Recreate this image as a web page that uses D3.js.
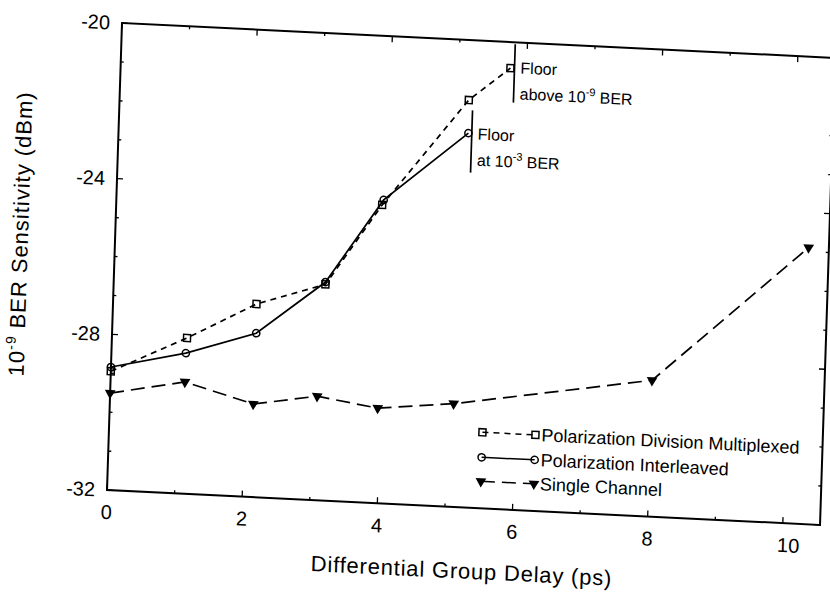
<!DOCTYPE html>
<html>
<head>
<meta charset="utf-8">
<script src="https://cdn.jsdelivr.net/npm/d3@7"></script>
<style>
  body { margin: 0; background: #fff; }
  text { font-family: "Liberation Sans", Arial, sans-serif; fill: #000; }
</style>
</head>
<body>
<div id="chart"></div>
<script>
// values
const xPDM = [0, 1.11, 2.12, 3.13, 3.93, 5.16, 5.76];
const yPDM = [-28.95, -28.0, -27.04, -26.45, -24.34, -21.54, -20.67];
const xPI = [0, 1.1, 2.13, 3.13, 3.95, 5.17];
const yPI = [-28.84, -28.39, -27.79, -26.39, -24.21, -22.39];
const xSC = [0, 1.1, 2.12, 3.06, 3.96, 5.08, 8.0, 10.25];
const ySC = [-29.51, -29.13, -29.61, -29.33, -29.56, -29.35, -28.5, -24.9];

const seriesNames = ["Polarization Division Multiplexed", "Polarization Interleaved", "Single Channel"];
const xTickLabels = [0, 2, 4, 6, 8, 10];
const yTickLabels = [-32, -28, -24, -20];

// floor annotations
const floorX = [5.82, 5.22];
const floorTop = [-20.05, -21.8];
const floorBottom = [-21.55, -23.4];
const floorPrefix = ["above 10", "at 10"];
const floorExp = ["-9", "-3"];

var width = 713, height = 467;

var svg = d3.select("#chart")
    .append("svg")
    .attr("width", 830)
    .attr("height", 606)
    .style("background", "#fff");

// the scan is slightly tilted, so the whole figure is drawn in a skewed frame
var g = svg.append("g")
    .attr("transform", "matrix(1,0.049,-0.0321,1,122,23)");

var x = d3.scaleLinear().domain([0, 10.55]).range([0, width]);
var y = d3.scaleLinear().domain([-32, -20]).range([height, 0]);

// frame
g.append("rect")
    .attr("width", width)
    .attr("height", height)
    .attr("fill", "none")
    .attr("stroke", "#000")
    .attr("stroke-width", 2);

// inward ticks on all four sides
var xt = d3.range(0, 11);
var yt = d3.range(-32, -19);
function tickLen(major) { return major ? 6 : 3; }

g.selectAll(".xtb").data(xt).enter().append("line")
    .attr("x1", d => x(d)).attr("x2", d => x(d))
    .attr("y1", height).attr("y2", d => height - tickLen(d % 2 == 0))
    .attr("stroke", "#000").attr("stroke-width", 1.3);
g.selectAll(".xtt").data(xt).enter().append("line")
    .attr("x1", d => x(d)).attr("x2", d => x(d))
    .attr("y1", 0).attr("y2", d => tickLen(d % 2 == 0))
    .attr("stroke", "#000").attr("stroke-width", 1.3);
g.selectAll(".ytl").data(yt).enter().append("line")
    .attr("y1", d => y(d)).attr("y2", d => y(d))
    .attr("x1", 0).attr("x2", d => tickLen(d % 4 == 0))
    .attr("stroke", "#000").attr("stroke-width", 1.3);
g.selectAll(".ytr").data(yt).enter().append("line")
    .attr("y1", d => y(d)).attr("y2", d => y(d))
    .attr("x1", width).attr("x2", d => width - tickLen(d % 4 == 0))
    .attr("stroke", "#000").attr("stroke-width", 1.3);

// tick labels
g.selectAll(".xl").data(xTickLabels).enter().append("text")
    .attr("x", d => x(d) + (d == 10 ? 6 : 0))
    .attr("y", height + 29)
    .attr("text-anchor", "middle")
    .style("font-size", "20px")
    .text(d => d);
g.selectAll(".yl").data(yTickLabels).enter().append("text")
    .attr("x", -12)
    .attr("y", d => y(d) + 7)
    .attr("text-anchor", "end")
    .style("font-size", "20px")
    .text(d => d);

// axis titles
g.append("text")
    .attr("x", width / 2)
    .attr("y", height + 71)
    .attr("text-anchor", "middle")
    .style("font-size", "22px")
    .style("letter-spacing", "0.8px")
    .text("Differential Group Delay (ps)");

var yTitle = g.append("text")
    .attr("transform", "translate(-87," + (height / 2 - 18) + ") rotate(-90)")
    .attr("text-anchor", "middle")
    .style("font-size", "22px")
    .style("letter-spacing", "1px");
yTitle.append("tspan").text("10");
yTitle.append("tspan").attr("dy", -9).style("font-size", "14px").text("-9");
yTitle.append("tspan").attr("dy", 9).text(" BER Sensitivity (dBm)");

// series
var series = [
    { xs: xPDM, ys: yPDM, dash: "6,5", marker: "square" },
    { xs: xPI, ys: yPI, dash: null, marker: "circle" },
    { xs: xSC, ys: ySC, dash: "14,7", marker: "triangle" }
];

var line = d3.line().x(d => x(d[0])).y(d => y(d[1]));

function drawMarker(sel, type, px, py) {
    if (type == "square") {
        sel.append("rect")
            .attr("x", px - 3.5).attr("y", py - 3.5)
            .attr("width", 7).attr("height", 7)
            .attr("fill", "none").attr("stroke", "#000").attr("stroke-width", 1.5);
    } else if (type == "circle") {
        sel.append("circle")
            .attr("cx", px).attr("cy", py).attr("r", 3.6)
            .attr("fill", "none").attr("stroke", "#000").attr("stroke-width", 1.5);
    } else {
        sel.append("path")
            .attr("d", d3.symbol().type(d3.symbolTriangle).size(50))
            .attr("transform", "translate(" + px + "," + py + ") rotate(180)")
            .attr("fill", "#000");
    }
}

series.forEach(function(s) {
    var pts = s.xs.map((v, i) => [v, s.ys[i]]);
    g.append("path")
        .attr("d", line(pts))
        .attr("fill", "none")
        .attr("stroke", "#000")
        .attr("stroke-width", 1.7)
        .attr("stroke-dasharray", s.dash);
    pts.forEach(function(p) { drawMarker(g, s.marker, x(p[0]), y(p[1])); });
});

// floor annotations
floorX.forEach(function(fx, i) {
    g.append("line")
        .attr("x1", x(fx)).attr("x2", x(fx))
        .attr("y1", y(floorTop[i])).attr("y2", y(floorBottom[i]))
        .attr("stroke", "#000").attr("stroke-width", 1.7);
    g.append("text")
        .attr("x", x(fx) + 6)
        .attr("y", y(floorTop[i]) + 29)
        .style("font-size", "16px")
        .text("Floor");
    var t = g.append("text")
        .attr("x", x(fx) + 6)
        .attr("y", y(floorTop[i]) + 55)
        .style("font-size", "16px");
    t.append("tspan").text(floorPrefix[i]);
    t.append("tspan").attr("dy", -7).style("font-size", "11px").text(floorExp[i]);
    t.append("tspan").attr("dy", 7).text(" BER");
});

// legend
var legendY = [397, 422, 446];
series.forEach(function(s, i) {
    var ly = legendY[i] - 6;
    g.append("line")
        .attr("x1", 373).attr("x2", 426)
        .attr("y1", ly).attr("y2", ly)
        .attr("stroke", "#000")
        .attr("stroke-width", 1.5)
        .attr("stroke-dasharray", s.dash);
    drawMarker(g, s.marker, 373, ly);
    drawMarker(g, s.marker, 426, ly);
    g.append("text")
        .attr("x", 432)
        .attr("y", legendY[i])
        .style("font-size", "18px")
        .text(seriesNames[i]);
});
</script>
</body>
</html>
